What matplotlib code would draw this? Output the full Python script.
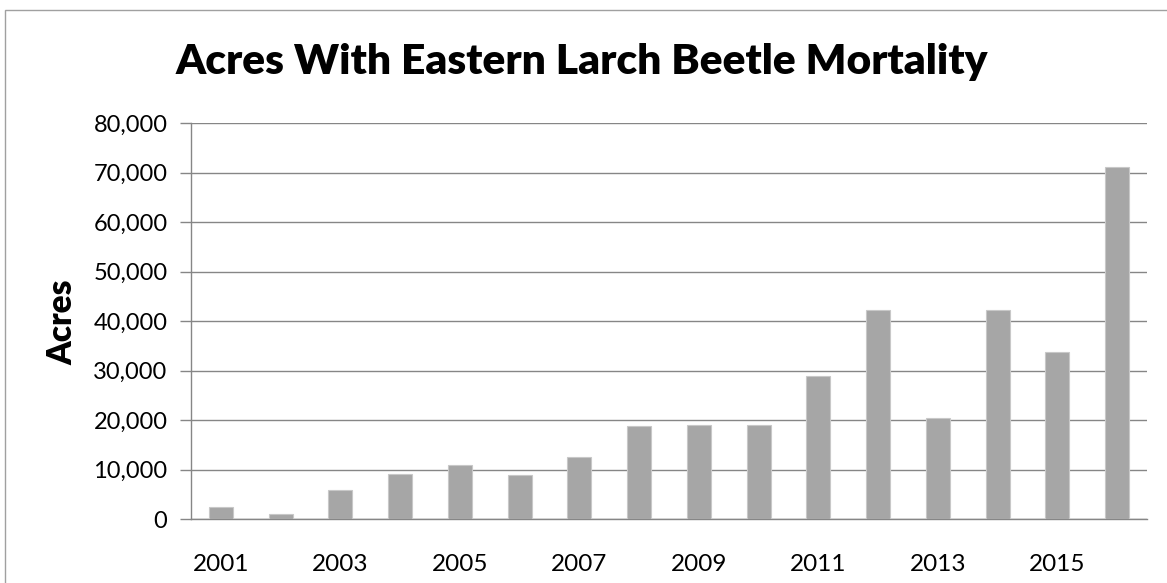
import matplotlib
matplotlib.use("Agg")
import matplotlib.pyplot as plt
from matplotlib.patches import Rectangle
from matplotlib.ticker import FuncFormatter

years = list(range(2001, 2017))
acres = [2400, 1100, 5960, 9130, 10950, 8860, 12570, 18850,
         18960, 19100, 28900, 42160, 20510, 42230, 33760, 71210]
title = "Acres With Eastern Larch Beetle Mortality"
ylabel = "Acres"
yticks = list(range(0, 80001, 10000))
xlabel_years = [y for y in years if y % 2 == 1]

plt.rcParams['font.family'] = ['Lato', 'DejaVu Sans']

W, H = 1167, 583
fig = plt.figure(figsize=(W / 100, H / 100), dpi=100)
ax = fig.add_axes([191 / W, 1 - 519.3 / H, (1147 - 191) / W, (519.3 - 123) / H])

grid_c = "#868686"
ax.bar(years, acres, width=0.4, color="#A6A6A6", edgecolor="#C8C8C8", linewidth=0.8, zorder=3)
ax.set_xlim(2000.5, 2016.5)
ax.set_ylim(0, 80000)
ax.set_yticks(yticks)
ax.yaxis.set_major_formatter(FuncFormatter(lambda v, p: f"{int(v):,}"))
ax.set_xticks(xlabel_years)
ax.set_xticklabels([str(y) for y in xlabel_years])
ax.tick_params(axis='x', length=0, labelsize=17.5, pad=25)
ax.tick_params(axis='y', length=8, width=1, color=grid_c, labelsize=17, pad=9)
ax.grid(axis='y', color=grid_c, linewidth=1, zorder=0)
for s in ['top', 'right']:
    ax.spines[s].set_visible(False)
for s in ['left', 'bottom']:
    ax.spines[s].set_color(grid_c)
    ax.spines[s].set_linewidth(1)
ax.set_axisbelow(True)

fig.text(582 / W, 1 - 62 / H, title, ha='center', va='center', fontsize=30.6, fontweight='heavy')
fig.text(62 / W, 1 - 322 / H, ylabel, ha='center', va='center', rotation=90, fontsize=24, fontweight='heavy')

fig.patches.append(Rectangle((5 / W, -0.05), 1.1, 1 - 10 / H + 0.05, transform=fig.transFigure,
                             fill=False, edgecolor="#A0A0A0", linewidth=1))

fig.savefig("out.png", dpi=100)
